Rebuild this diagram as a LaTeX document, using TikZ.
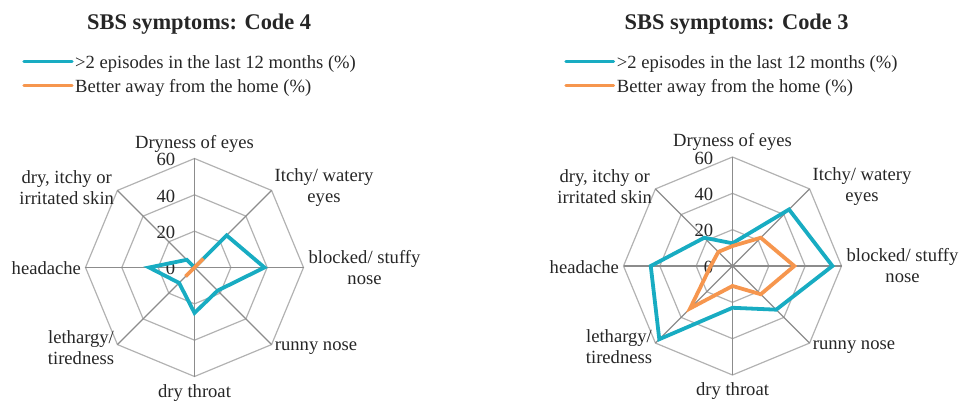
\documentclass[tikz,border=0pt]{standalone}
\usepackage{fontspec}
\setmainfont{Liberation Serif}
\definecolor{epicol}{RGB}{24,172,194}
\definecolor{awaycol}{RGB}{246,150,78}
\begin{document}
\begin{tikzpicture}[x=1pt,y=1pt]
\tikzstyle{every node}=[inner sep=0pt, text=black!85, font=\fontsize{18.6}{21}\selectfont]
\tikzstyle{title}=[anchor=base, font=\fontsize{22.4}{26}\selectfont\bfseries]
\tikzstyle{legtext}=[anchor=base west]
\tikzstyle{axlabel}=[align=center]
\tikzstyle{tick}=[anchor=east]
\tikzstyle{ring}=[draw=black!30, line width=1.2pt]
\tikzstyle{spoke}=[draw=black!45, line width=1.2pt]
\tikzstyle{epis}=[draw=epicol, line width=3.8pt, line join=miter]
\tikzstyle{away}=[draw=awaycol, line width=3.8pt, line join=miter]

\useasboundingbox (0,0) rectangle (960,401);

\coordinate (c4) at (194.5,133.5);
\coordinate (c3) at (732.5,135);

% titles and legends
\node[title] (t4) at (199.2,371.7) {SBS symptoms: Code 4};
\node[title] (t3) at (736.7,371.7) {SBS symptoms: Code 3};

\draw[epis, line width=3.4pt, line cap=round] (24,339.5) -- (72,339.5);
\draw[away, line width=3.4pt, line cap=round] (24,315.5) -- (72,315.5);
\node[legtext] (l4a) at (75,332.7) {>2 episodes in the last 12 months (\%)};
\node[legtext] (l4b) at (75,308.3) {Better away from the home (\%)};

\draw[epis, line width=3.4pt, line cap=round] (566,339.5) -- (613.5,339.5);
\draw[away, line width=3.4pt, line cap=round] (566,315.5) -- (613.5,315.5);
\node[legtext] (l3a) at (616.7,332.7) {>2 episodes in the last 12 months (\%)};
\node[legtext] (l3b) at (616.7,308.3) {Better away from the home (\%)};

% grid, scale and axis labels
\foreach \c in {c4,c3} {
  \begin{scope}[shift={(\c)}, x=1.8167pt, y=1.8167pt]
    \foreach \r in {20,40,60}
      \draw[ring] (90:\r) \foreach \a in {45,0,...,-270} { -- (\a:\r) } -- cycle;
    \foreach \a in {90,45,...,-225}
      \draw[spoke] (0,0) -- (\a:60);
    \foreach \r in {0,20,40,60}
      \node[tick] (\c-t\r) at (-10.5,\r-0.6) {\r};
    \node[axlabel] (\c-dry)   at (0pt,124pt)       {Dryness of eyes};
    \node[axlabel] (\c-itchy) at (129.5pt,79.5pt)  {Itchy/ watery\\eyes};
    \node[axlabel] (\c-nose)  at (170pt,0pt)       {blocked/ stuffy\\nose};
    \node[axlabel] (\c-runny) at (121.5pt,-80.8pt) {runny nose};
    \node[axlabel] (\c-throat) at (0pt,-125.2pt)   {dry throat};
    \node[axlabel] (\c-tired) at (-113.5pt,-80.5pt) {lethargy/\\tiredness};
    \node[axlabel] (\c-head)  at (-148.2pt,-0.8pt) {headache};
    \node[axlabel] (\c-skin)  at (-127.8pt,79.5pt) {dry, itchy or\\irritated skin};
  \end{scope}
}

% Code 4 data
\begin{scope}[shift={(c4)}, x=1.8167pt, y=1.8167pt]
  \draw[epis] (90:0) -- (45:25) -- (0:38.5) -- (-45:18) -- (-90:25)
    -- (-135:12) -- (180:25) -- (135:6) -- cycle;
  \draw[away] (90:0) -- (45:7) -- (0:0) -- (-45:0) -- (-90:0)
    -- (-135:7) -- (180:0) -- (135:0) -- cycle;
\end{scope}

% Code 3 data
\begin{scope}[shift={(c3)}, x=1.8167pt, y=1.8167pt]
  \draw[epis] (90:12.5) -- (45:44) -- (0:55) -- (-45:34) -- (-90:23)
    -- (-135:57) -- (180:45) -- (135:22) -- cycle;
  \draw[away] (90:11) -- (45:22) -- (0:34) -- (-45:22) -- (-90:11)
    -- (-135:33) -- (180:12) -- (135:11) -- cycle;
\end{scope}
\end{tikzpicture}
\end{document}
